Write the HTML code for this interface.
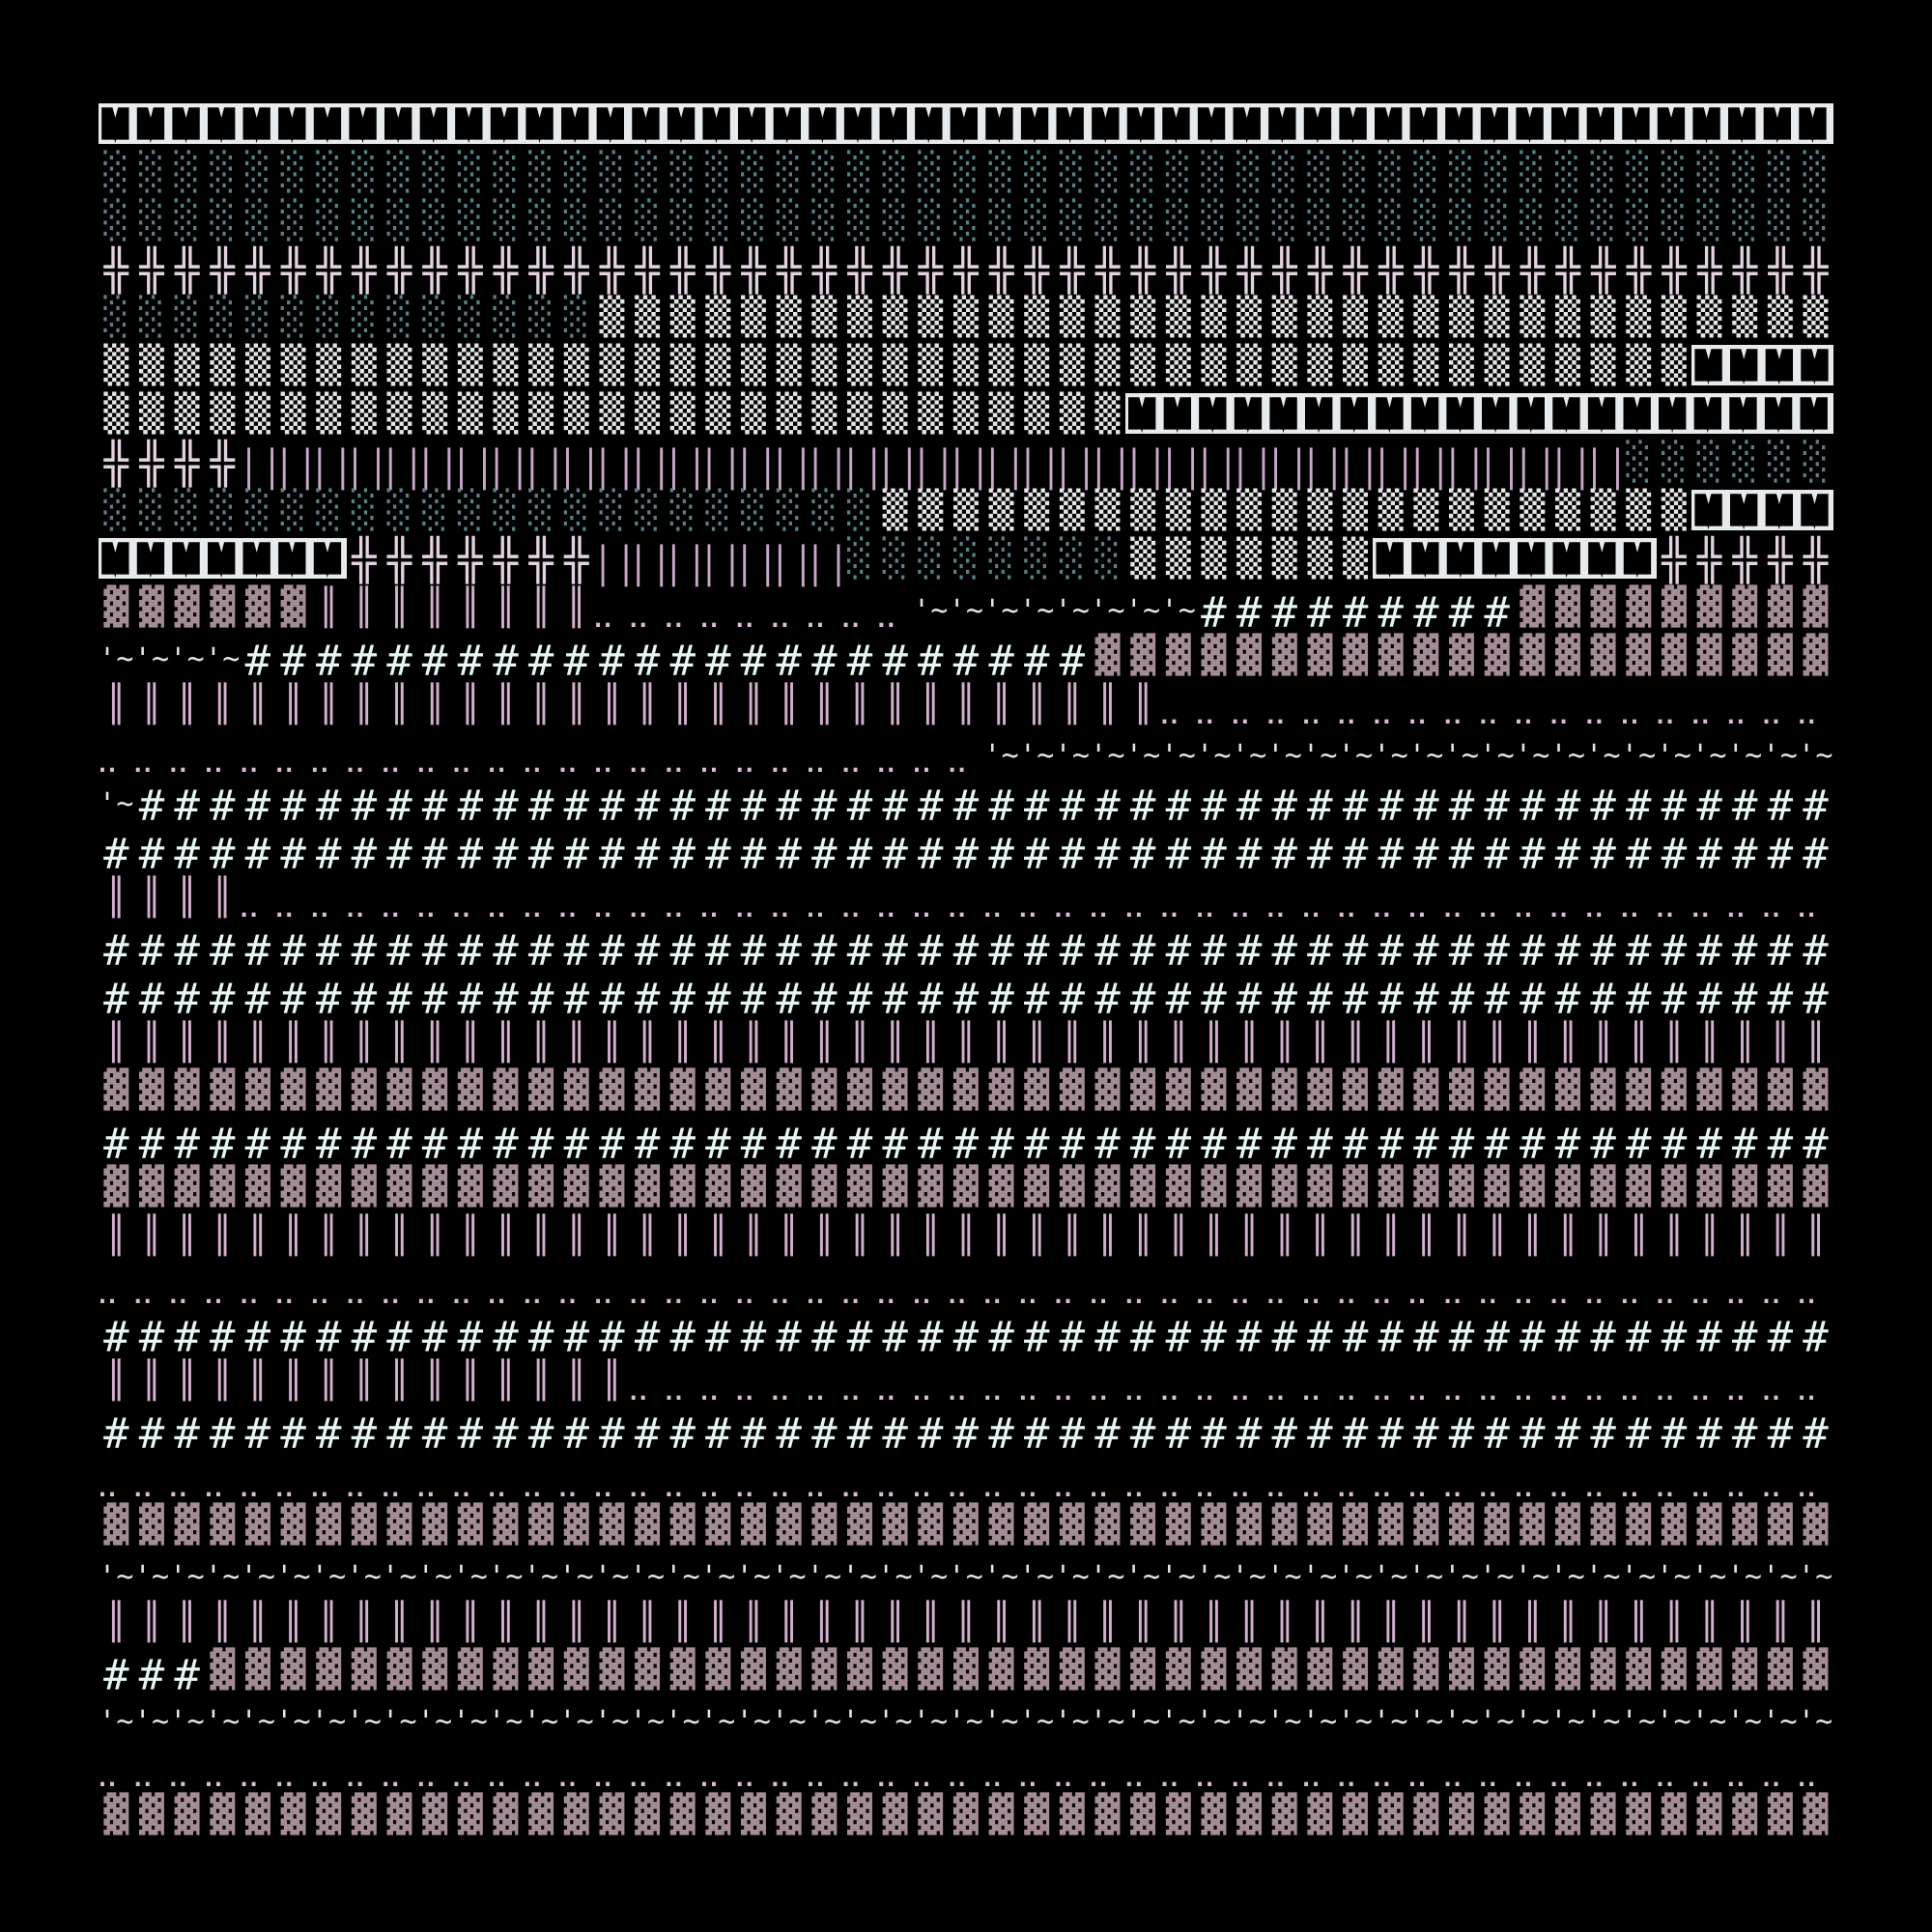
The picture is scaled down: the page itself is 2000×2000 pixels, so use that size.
<!DOCTYPE html>
<html><head><meta charset="utf-8"><style>
body{margin:0;background:#000;width:2000px;height:2000px;overflow:hidden;position:relative}
.r{position:absolute;left:0;width:2000px;height:50px}
.r>span{position:absolute;white-space:pre;font-family:"DejaVu Sans Mono",monospace;left:calc(102px + var(--c)*36.65px + var(--p,0px))}
.h{--p:5.08px;font-size:44px;line-height:44px;top:10px;letter-spacing:10.16px;color:#e6f6f4}
.t{font-size:30px;line-height:30px;top:15px;letter-spacing:0.26px;color:#e4e4e4}
.o{--p:-3.2px;font-size:24px;font-weight:bold;line-height:24px;top:26px;letter-spacing:-4.45px;word-spacing:6.65px;color:#dcbcd6}
.v{--p:7.19px;font-size:37px;line-height:37px;top:7px;letter-spacing:14.38px;color:#d4b0d0}
.x{--p:5.68px;font-size:42px;line-height:42px;top:5.5px;letter-spacing:11.37px;color:#e4d2e2}
.p1,.p2{font-size:37px;line-height:37px;top:14px;letter-spacing:14.38px;color:#c8a8c8}
.p1{--p:-2.13px}.p2{--p:21.87px}
.l,.s,.d{--p:5.38px;font-size:43px;line-height:43px;top:3.5px;letter-spacing:10.76px;transform:scaleY(.88);transform-origin:50% 50%}
.l{color:#5a8088}.s{color:#e6e6e6}.d{color:#a48c96}
.r>span.m{--p:0px;top:4px;height:42px;background:#e8ebee;width:calc(var(--n)*36.65px);overflow:hidden}
.m b{display:block;font:bold 32px/42px "Liberation Sans",sans-serif;color:#000;-webkit-text-stroke:6px #000;letter-spacing:9.95px;padding-left:4px;transform:scaleY(1.2);transform-origin:50% 55%}
</style></head><body>
<div class="r" style="top:103px"><span class="m" style="--c:0;--n:49"><b>MMMMMMMMMMMMMMMMMMMMMMMMMMMMMMMMMMMMMMMMMMMMMMMMM</b></span></div>
<div class="r" style="top:153px"><span class="l" style="--c:0">░░░░░░░░░░░░░░░░░░░░░░░░░░░░░░░░░░░░░░░░░░░░░░░░░</span></div>
<div class="r" style="top:203px"><span class="l" style="--c:0">░░░░░░░░░░░░░░░░░░░░░░░░░░░░░░░░░░░░░░░░░░░░░░░░░</span></div>
<div class="r" style="top:253px"><span class="x" style="--c:0">╬╬╬╬╬╬╬╬╬╬╬╬╬╬╬╬╬╬╬╬╬╬╬╬╬╬╬╬╬╬╬╬╬╬╬╬╬╬╬╬╬╬╬╬╬╬╬╬╬</span></div>
<div class="r" style="top:303px"><span class="l" style="--c:0">░░░░░░░░░░░░░░</span><span class="s" style="--c:14">▒▒▒▒▒▒▒▒▒▒▒▒▒▒▒▒▒▒▒▒▒▒▒▒▒▒▒▒▒▒▒▒▒▒▒</span></div>
<div class="r" style="top:353px"><span class="s" style="--c:0">▒▒▒▒▒▒▒▒▒▒▒▒▒▒▒▒▒▒▒▒▒▒▒▒▒▒▒▒▒▒▒▒▒▒▒▒▒▒▒▒▒▒▒▒▒</span><span class="m" style="--c:45;--n:4"><b>MMMM</b></span></div>
<div class="r" style="top:403px"><span class="s" style="--c:0">▒▒▒▒▒▒▒▒▒▒▒▒▒▒▒▒▒▒▒▒▒▒▒▒▒▒▒▒▒</span><span class="m" style="--c:29;--n:20"><b>MMMMMMMMMMMMMMMMMMMM</b></span></div>
<div class="r" style="top:453px"><span class="x" style="--c:0">╬╬╬╬</span><span class="p1" style="--c:4">│││││││││││││││││││││││││││││││││││││││</span><span class="p2" style="--c:4">│││││││││││││││││││││││││││││││││││││││</span><span class="l" style="--c:43">░░░░░░</span></div>
<div class="r" style="top:503px"><span class="l" style="--c:0">░░░░░░░░░░░░░░░░░░░░░░</span><span class="s" style="--c:22">▒▒▒▒▒▒▒▒▒▒▒▒▒▒▒▒▒▒▒▒▒▒▒</span><span class="m" style="--c:45;--n:4"><b>MMMM</b></span></div>
<div class="r" style="top:553px"><span class="m" style="--c:0;--n:7"><b>MMMMMMM</b></span><span class="x" style="--c:7">╬╬╬╬╬╬╬</span><span class="p1" style="--c:14">│││││││</span><span class="p2" style="--c:14">│││││││</span><span class="l" style="--c:21">░░░░░░░░</span><span class="s" style="--c:29">▒▒▒▒▒▒▒</span><span class="m" style="--c:36;--n:8"><b>MMMMMMMM</b></span><span class="x" style="--c:44">╬╬╬╬╬</span></div>
<div class="r" style="top:603px"><span class="d" style="--c:0">▓▓▓▓▓▓</span><span class="v" style="--c:6">║║║║║║║║</span><span class="o" style="--c:14">.. .. .. .. .. .. .. .. .. </span><span class="t" style="--c:23">'~'~'~'~'~'~'~'~</span><span class="h" style="--c:31">#########</span><span class="d" style="--c:40">▓▓▓▓▓▓▓▓▓</span></div>
<div class="r" style="top:653px"><span class="t" style="--c:0">'~'~'~'~</span><span class="h" style="--c:4">########################</span><span class="d" style="--c:28">▓▓▓▓▓▓▓▓▓▓▓▓▓▓▓▓▓▓▓▓▓</span></div>
<div class="r" style="top:703px"><span class="v" style="--c:0">║║║║║║║║║║║║║║║║║║║║║║║║║║║║║║</span><span class="o" style="--c:30">.. .. .. .. .. .. .. .. .. .. .. .. .. .. .. .. .. .. .. </span></div>
<div class="r" style="top:753px"><span class="o" style="--c:0">.. .. .. .. .. .. .. .. .. .. .. .. .. .. .. .. .. .. .. .. .. .. .. .. .. </span><span class="t" style="--c:25">'~'~'~'~'~'~'~'~'~'~'~'~'~'~'~'~'~'~'~'~'~'~'~'~</span></div>
<div class="r" style="top:803px"><span class="t" style="--c:0">'~</span><span class="h" style="--c:1">################################################</span></div>
<div class="r" style="top:853px"><span class="h" style="--c:0">#################################################</span></div>
<div class="r" style="top:903px"><span class="v" style="--c:0">║║║║</span><span class="o" style="--c:4">.. .. .. .. .. .. .. .. .. .. .. .. .. .. .. .. .. .. .. .. .. .. .. .. .. .. .. .. .. .. .. .. .. .. .. .. .. .. .. .. .. .. .. .. .. </span></div>
<div class="r" style="top:953px"><span class="h" style="--c:0">#################################################</span></div>
<div class="r" style="top:1003px"><span class="h" style="--c:0">#################################################</span></div>
<div class="r" style="top:1053px"><span class="v" style="--c:0">║║║║║║║║║║║║║║║║║║║║║║║║║║║║║║║║║║║║║║║║║║║║║║║║║</span></div>
<div class="r" style="top:1103px"><span class="d" style="--c:0">▓▓▓▓▓▓▓▓▓▓▓▓▓▓▓▓▓▓▓▓▓▓▓▓▓▓▓▓▓▓▓▓▓▓▓▓▓▓▓▓▓▓▓▓▓▓▓▓▓</span></div>
<div class="r" style="top:1153px"><span class="h" style="--c:0">#################################################</span></div>
<div class="r" style="top:1203px"><span class="d" style="--c:0">▓▓▓▓▓▓▓▓▓▓▓▓▓▓▓▓▓▓▓▓▓▓▓▓▓▓▓▓▓▓▓▓▓▓▓▓▓▓▓▓▓▓▓▓▓▓▓▓▓</span></div>
<div class="r" style="top:1253px"><span class="v" style="--c:0">║║║║║║║║║║║║║║║║║║║║║║║║║║║║║║║║║║║║║║║║║║║║║║║║║</span></div>
<div class="r" style="top:1303px"><span class="o" style="--c:0">.. .. .. .. .. .. .. .. .. .. .. .. .. .. .. .. .. .. .. .. .. .. .. .. .. .. .. .. .. .. .. .. .. .. .. .. .. .. .. .. .. .. .. .. .. .. .. .. .. </span></div>
<div class="r" style="top:1353px"><span class="h" style="--c:0">#################################################</span></div>
<div class="r" style="top:1403px"><span class="v" style="--c:0">║║║║║║║║║║║║║║║</span><span class="o" style="--c:15">.. .. .. .. .. .. .. .. .. .. .. .. .. .. .. .. .. .. .. .. .. .. .. .. .. .. .. .. .. .. .. .. .. .. </span></div>
<div class="r" style="top:1453px"><span class="h" style="--c:0">#################################################</span></div>
<div class="r" style="top:1503px"><span class="o" style="--c:0">.. .. .. .. .. .. .. .. .. .. .. .. .. .. .. .. .. .. .. .. .. .. .. .. .. .. .. .. .. .. .. .. .. .. .. .. .. .. .. .. .. .. .. .. .. .. .. .. .. </span></div>
<div class="r" style="top:1553px"><span class="d" style="--c:0">▓▓▓▓▓▓▓▓▓▓▓▓▓▓▓▓▓▓▓▓▓▓▓▓▓▓▓▓▓▓▓▓▓▓▓▓▓▓▓▓▓▓▓▓▓▓▓▓▓</span></div>
<div class="r" style="top:1603px"><span class="t" style="--c:0">'~'~'~'~'~'~'~'~'~'~'~'~'~'~'~'~'~'~'~'~'~'~'~'~'~'~'~'~'~'~'~'~'~'~'~'~'~'~'~'~'~'~'~'~'~'~'~'~'~</span></div>
<div class="r" style="top:1653px"><span class="v" style="--c:0">║║║║║║║║║║║║║║║║║║║║║║║║║║║║║║║║║║║║║║║║║║║║║║║║║</span></div>
<div class="r" style="top:1703px"><span class="h" style="--c:0">###</span><span class="d" style="--c:3">▓▓▓▓▓▓▓▓▓▓▓▓▓▓▓▓▓▓▓▓▓▓▓▓▓▓▓▓▓▓▓▓▓▓▓▓▓▓▓▓▓▓▓▓▓▓</span></div>
<div class="r" style="top:1753px"><span class="t" style="--c:0">'~'~'~'~'~'~'~'~'~'~'~'~'~'~'~'~'~'~'~'~'~'~'~'~'~'~'~'~'~'~'~'~'~'~'~'~'~'~'~'~'~'~'~'~'~'~'~'~'~</span></div>
<div class="r" style="top:1803px"><span class="o" style="--c:0">.. .. .. .. .. .. .. .. .. .. .. .. .. .. .. .. .. .. .. .. .. .. .. .. .. .. .. .. .. .. .. .. .. .. .. .. .. .. .. .. .. .. .. .. .. .. .. .. .. </span></div>
<div class="r" style="top:1853px"><span class="d" style="--c:0">▓▓▓▓▓▓▓▓▓▓▓▓▓▓▓▓▓▓▓▓▓▓▓▓▓▓▓▓▓▓▓▓▓▓▓▓▓▓▓▓▓▓▓▓▓▓▓▓▓</span></div>
</body></html>
